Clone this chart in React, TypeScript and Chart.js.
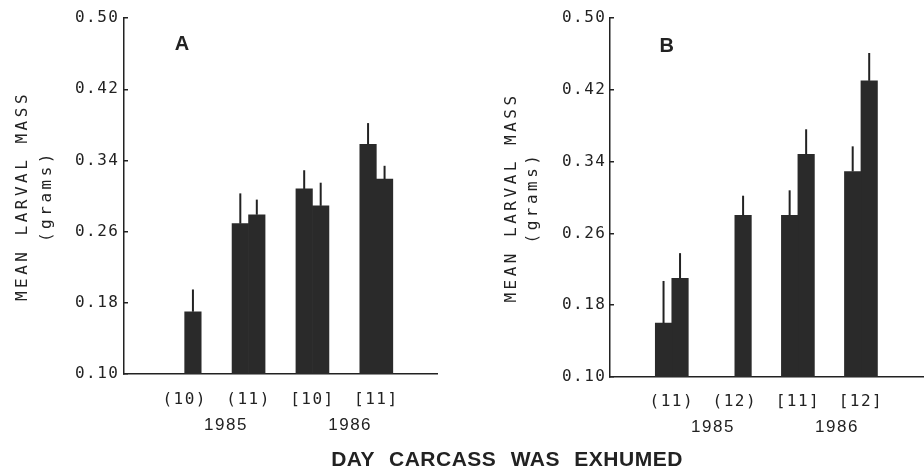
import React, { useEffect, useRef } from 'react';
import { Chart, registerables } from 'chart.js';

Chart.register(...registerables);

// ---------- data ----------
const Y_TICKS = [0.1, 0.18, 0.26, 0.34, 0.42, 0.5];
const YEARS = ['1985', '1986'];
const Y_TITLE = ['MEAN LARVAL MASS', '(grams)'];
const X_TITLE = 'DAY CARCASS WAS EXHUMED';

const A_CATEGORIES = ['(10)', '(11)', '[10]', '[11]'];
const A_FIRST = [null, 0.269, 0.308, 0.358];
const A_FIRST_SE = [null, 0.034, 0.021, 0.024];
const A_SECOND = [0.17, 0.279, 0.289, 0.319];
const A_SECOND_SE = [0.025, 0.017, 0.026, 0.015];

const B_CATEGORIES = ['(11)', '(12)', '[11]', '[12]'];
const B_FIRST = [0.16, null, 0.28, 0.329];
const B_FIRST_SE = [0.047, null, 0.028, 0.028];
const B_SECOND = [0.21, 0.28, 0.348, 0.43];
const B_SECOND_SE = [0.028, 0.022, 0.028, 0.031];

// ---------- style ----------
const INK = '#222222';
const BAR = '#2a2a2a';
const MONO = '"DejaVu Sans Mono", monospace';
const SANS = '"Liberation Sans", Arial, sans-serif';
const H = 475;

type Layout = {
  letter: string;
  left: number;
  width: number;
  xMin: number;
  xMax: number;
  yearPos: number[];
  letterX: number;
  letterY: number;
  yAxisWidth: number;
  xAxisHeight: number;
  padTop: number;
  padRight: number;
  titleLineHeight: number;
  titlePad: number;
  tickPad: number;
  xTickPad: number;
  barThickness: number;
};

const LAYOUT_A: Layout = {
  letter: 'A', left: 0, width: 460, xMin: 0.05, xMax: 4.95,
  yearPos: [1.647, 3.59], letterX: 0.958, letterY: 0.47,
  yAxisWidth: 124, xAxisHeight: H - 374, padTop: 16, padRight: 23,
  titleLineHeight: 1.5, titlePad: 10.5, tickPad: 8.5, xTickPad: 10,
  barThickness: 16.5,
};

const LAYOUT_B: Layout = {
  letter: 'B', left: 460, width: 464, xMin: 0.02, xMax: 5.0,
  yearPos: [1.654, 3.62], letterX: 0.919, letterY: 0.468,
  yAxisWidth: 150, xAxisHeight: H - 377, padTop: 18, padRight: 0,
  titleLineHeight: 1.3125, titlePad: 41, tickPad: 7.5, xTickPad: 9,
  barThickness: 16.5,
};

type Pt = { x: number; y: number; se: number };

function toPoints(vals: (number | null)[], se: (number | null)[]): Pt[] {
  const out: Pt[] = [];
  vals.forEach((v, i) => {
    if (v !== null) out.push({ x: i + 1, y: v, se: (se[i] as number) || 0 });
  });
  return out;
}

function buildConfig(
  p: Layout,
  categories: string[],
  first: (number | null)[],
  firstSe: (number | null)[],
  second: (number | null)[],
  secondSe: (number | null)[]
): any {
  const panelPlugin = {
    id: 'panelExtras',
    beforeDraw(chart: any) {
      chart.ctx.letterSpacing = '3.5px';
    },
    beforeDatasetsDraw(chart: any) {
      chart.ctx.letterSpacing = '0px';
    },
    afterDatasetsDraw(chart: any) {
      const ctx = chart.ctx;
      const yScale = chart.scales.y;
      const xScale = chart.scales.x;
      ctx.save();
      ctx.strokeStyle = INK;
      ctx.lineWidth = 2;
      chart.data.datasets.forEach((ds: any, d: number) => {
        const meta = chart.getDatasetMeta(d);
        meta.data.forEach((el: any, j: number) => {
          const raw = ds.data[j] as Pt;
          if (!raw || !raw.se) return;
          const top = yScale.getPixelForValue(raw.y + raw.se);
          ctx.beginPath();
          ctx.moveTo(el.x, el.y);
          ctx.lineTo(el.x, top);
          ctx.stroke();
        });
      });
      ctx.fillStyle = INK;
      ctx.font = 'bold 20px ' + SANS;
      ctx.textAlign = 'center';
      ctx.textBaseline = 'middle';
      ctx.fillText(p.letter, xScale.getPixelForValue(p.letterX), yScale.getPixelForValue(p.letterY));
      ctx.restore();
      chart.ctx.letterSpacing = '1.5px';
    },
    afterDraw(chart: any) {
      chart.ctx.letterSpacing = '0px';
    },
  };

  const isCat = (v: number) => Math.abs(v - Math.round(v)) < 1e-9;

  const barStyle = {
    backgroundColor: BAR,
    borderWidth: 0,
    barThickness: p.barThickness,
  };

  return {
    type: 'bar',
    data: {
      datasets: [
        { label: 'First exhumation', data: toPoints(first, firstSe), ...barStyle },
        { label: 'Second exhumation', data: toPoints(second, secondSe), ...barStyle },
      ],
    },
    options: {
      responsive: false,
      animation: false,
      devicePixelRatio: 1,
      layout: { padding: { top: p.padTop, right: p.padRight, left: 0, bottom: 0 } },
      plugins: {
        legend: { display: false },
        tooltip: { enabled: false },
        title: { display: false },
      },
      scales: {
        x: {
          type: 'linear',
          min: p.xMin,
          max: p.xMax,
          offset: false,
          grid: { display: false },
          border: { display: true, color: INK, width: 1.5 },
          afterFit: (s: any) => {
            s.height = p.xAxisHeight;
          },
          afterBuildTicks: (s: any) => {
            const vals = categories.map((_, i) => i + 1).concat(p.yearPos);
            vals.sort((a, b) => a - b);
            s.ticks = vals.map((v) => ({ value: v }));
          },
          ticks: {
            autoSkip: false,
            maxRotation: 0,
            minRotation: 0,
            padding: p.xTickPad,
            color: INK,
            z: 1,
            callback: (v: any) => {
              const n = Number(v);
              if (isCat(n)) return categories[Math.round(n) - 1] ?? '';
              const yi = p.yearPos.findIndex((y) => Math.abs(y - n) < 1e-9);
              return yi >= 0 ? ['', YEARS[yi]] : '';
            },
            font: (ctx: any) => {
              const v = ctx && ctx.tick ? Number(ctx.tick.value) : 1;
              return isCat(v)
                ? { family: MONO, size: 16, lineHeight: 16 / 16 }
                : { family: SANS, size: 17, lineHeight: 22 / 17 };
            },
          },
        },
        y: {
          min: 0.1,
          max: 0.5,
          afterFit: (s: any) => {
            s.width = p.yAxisWidth;
          },
          afterBuildTicks: (s: any) => {
            s.ticks = Y_TICKS.map((v) => ({ value: v }));
          },
          grid: {
            display: true,
            drawOnChartArea: false,
            drawTicks: true,
            tickLength: -4,
            color: INK,
            lineWidth: 1.5,
            z: -1,
          },
          border: { display: true, color: INK, width: 1.5 },
          ticks: {
            padding: p.tickPad,
            color: INK,
            z: 1,
            font: { family: MONO, size: 16 },
            callback: (v: any) => Number(v).toFixed(2),
          },
          title: {
            display: true,
            text: Y_TITLE,
            color: INK,
            font: { family: MONO, size: 16, lineHeight: p.titleLineHeight },
            padding: { top: p.titlePad, bottom: 0 },
          },
        },
      },
    },
    plugins: [panelPlugin],
  };
}

function Panel(props: {
  layout: Layout;
  categories: string[];
  first: (number | null)[];
  firstSe: (number | null)[];
  second: (number | null)[];
  secondSe: (number | null)[];
}) {
  const ref = useRef<HTMLCanvasElement>(null);
  useEffect(() => {
    if (!ref.current) return;
    const chart = new Chart(
      ref.current,
      buildConfig(props.layout, props.categories, props.first, props.firstSe, props.second, props.secondSe)
    );
    return () => chart.destroy();
  }, []);
  const { layout } = props;
  return (
    <canvas
      ref={ref}
      width={layout.width}
      height={H}
      style={{ position: 'absolute', left: layout.left, top: 0, width: layout.width, height: H }}
    />
  );
}

export default function App() {
  return (
    <div
      style={{
        position: 'fixed',
        left: 0,
        top: 0,
        width: 924,
        height: H,
        background: '#ffffff',
        overflow: 'hidden',
      }}
    >
      <Panel
        layout={LAYOUT_A}
        categories={A_CATEGORIES}
        first={A_FIRST}
        firstSe={A_FIRST_SE}
        second={A_SECOND}
        secondSe={A_SECOND_SE}
      />
      <Panel
        layout={LAYOUT_B}
        categories={B_CATEGORIES}
        first={B_FIRST}
        firstSe={B_FIRST_SE}
        second={B_SECOND}
        secondSe={B_SECOND_SE}
      />
      <div
        style={{
          position: 'absolute',
          left: 207,
          width: 600,
          top: 446,
          lineHeight: '26px',
          textAlign: 'center',
          fontFamily: SANS,
          fontWeight: 'bold',
          fontSize: 21,
          letterSpacing: '0.5px',
          wordSpacing: '8px',
          color: INK,
          whiteSpace: 'nowrap',
        }}
      >
        {X_TITLE}
      </div>
    </div>
  );
}
